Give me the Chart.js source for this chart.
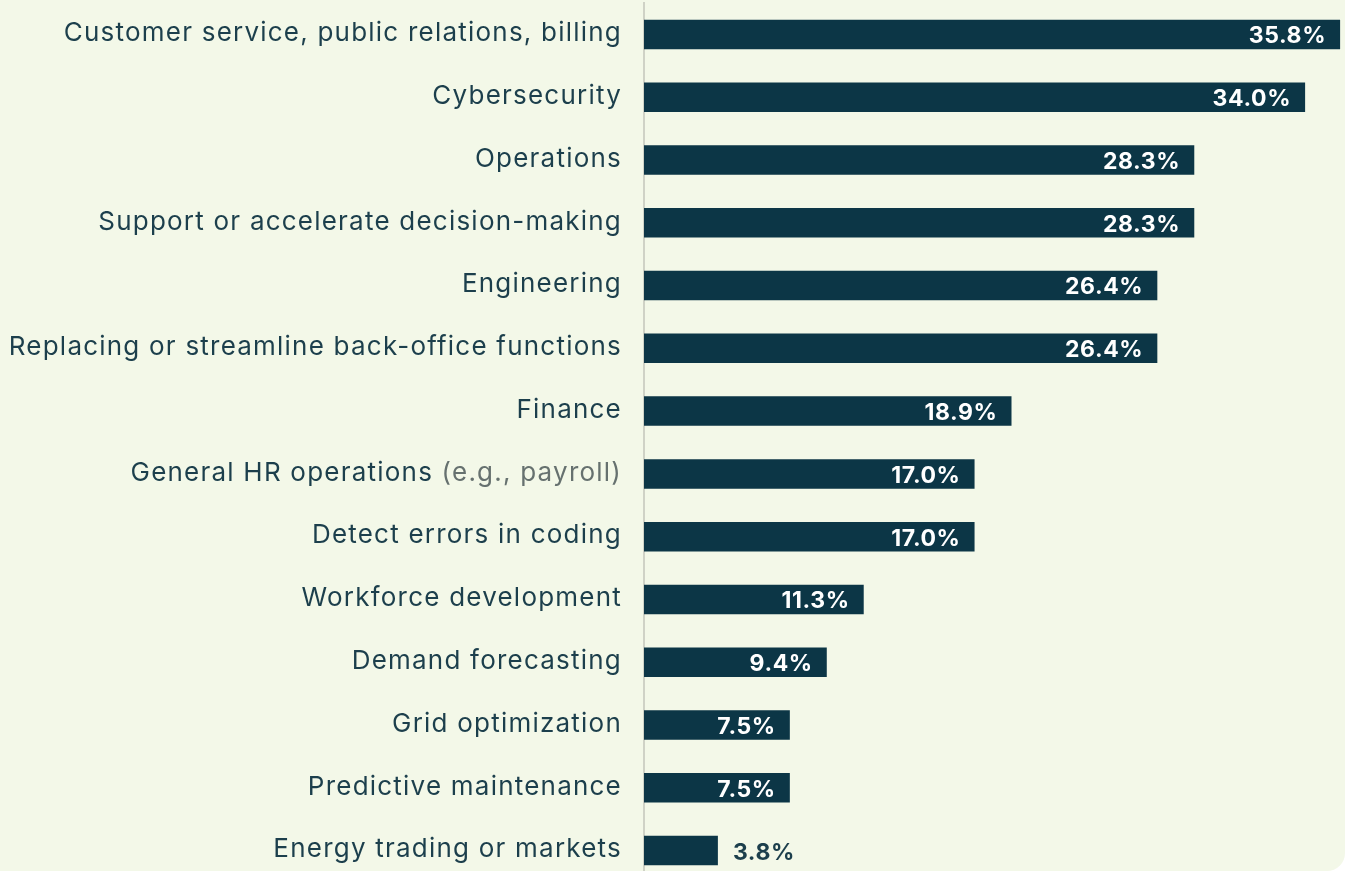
<!DOCTYPE html>
<html>
<head>
<meta charset="utf-8">
<title>AI use cases</title>
<script src="https://cdn.jsdelivr.net/npm/chart.js@4/dist/chart.umd.min.js"></script>
<style>
	html, body { margin: 0; padding: 0; background: #ffffff; overflow: hidden; }
	#card { width: 1345px; height: 871px; background: #f3f8e8; border-radius: 0 0 18px 0; overflow: hidden; }
	canvas { display: block; }
</style>
</head>
<body>
<div id="card"><canvas id="myChart" width="1345" height="882"></canvas></div>
<script>
/*
 * VARIABLES
 */
	var labels = [
		"Customer service, public relations, billing",
		"Cybersecurity",
		"Operations",
		"Support or accelerate decision-making",
		"Engineering",
		"Replacing or streamline back-office functions",
		"Finance",
		"General HR operations",
		"Detect errors in coding",
		"Workforce development",
		"Demand forecasting",
		"Grid optimization",
		"Predictive maintenance",
		"Energy trading or markets"
	];
	// grey trailing notes after some labels
	var labelNotes = ["", "", "", "", "", "", "", " (e.g., payroll)", "", "", "", "", "", ""];
	var values = [35.8, 34.0, 28.3, 28.3, 26.4, 26.4, 18.9, 17.0, 17.0, 11.3, 9.4, 7.5, 7.5, 3.8];

	var barColor = '#0c3646';
	var textColor = '#1c3f4c';
	var noteColor = '#66716f';
	var fontFamily = 'Inter, "Noto Sans", sans-serif';
	var labelSize = 26;

	/* spread letters so the longest label spans about 612px, like the source */
	var measureCtx = document.createElement('canvas').getContext('2d');
	measureCtx.font = labelSize + 'px ' + fontFamily;
	var longest = labels[5];
	var labelSpacing = (612 - measureCtx.measureText(longest).width) / (longest.length - 1);
	labelSpacing = Math.max(0, Math.min(2, labelSpacing));

/*
 * PLUGINS
 */
	/* DRAW - category labels with optional grey note */
	var categoryLabels = {
		id: 'categoryLabels',
		afterDraw: function(chart) {
			var ctx = chart.ctx;
			var yScale = chart.scales.y;
			var right = yScale.right - 22;
			ctx.save();
			ctx.font = labelSize + 'px ' + fontFamily;
			ctx.letterSpacing = labelSpacing + 'px';
			ctx.textBaseline = 'middle';
			ctx.textAlign = 'right';
			labels.forEach(function(label, i) {
				var y = yScale.getPixelForValue(i) - 1;
				var x = right;
				if (labelNotes[i]) {
					ctx.fillStyle = noteColor;
					ctx.fillText(labelNotes[i], x, y);
					x -= ctx.measureText(labelNotes[i]).width;
				}
				ctx.fillStyle = textColor;
				ctx.fillText(label, x, y);
			});
			ctx.restore();
		}
	};

	/* DRAW - value labels at the end of each bar */
	var valueLabels = {
		id: 'valueLabels',
		afterDatasetsDraw: function(chart) {
			var ctx = chart.ctx;
			var meta = chart.getDatasetMeta(0);
			ctx.save();
			ctx.font = 'bold 23px ' + fontFamily;
			ctx.letterSpacing = '0.6px';
			ctx.textBaseline = 'middle';
			meta.data.forEach(function(bar, i) {
				var text = values[i].toFixed(1) + '%';
				var w = ctx.measureText(text).width;
				var barWidth = bar.x - bar.base;
				if (barWidth > w + 24) {
					ctx.textAlign = 'right';
					ctx.fillStyle = '#ffffff';
					ctx.fillText(text, bar.x - 14, bar.y + 2);
				}
				else {
					ctx.textAlign = 'left';
					ctx.fillStyle = textColor;
					ctx.fillText(text, bar.x + 15, bar.y + 2);
				}
			});
			ctx.restore();
		}
	};

/*
 * CHART
 */
	var myChart = new Chart(document.getElementById('myChart'), {
		type: 'bar',
		data: {
			labels: labels,
			datasets: [{
				data: values,
				backgroundColor: barColor,
				borderWidth: 0,
				categoryPercentage: 1,
				barPercentage: 0.47
			}]
		},
		options: {
			indexAxis: 'y',
			responsive: false,
			animation: false,
			layout: {
				padding: { top: 3, right: 1, bottom: 0, left: 0 }
			},
			plugins: {
				legend: { display: false },
				tooltip: { enabled: false }
			},
			scales: {
				x: {
					display: false,
					min: 0,
					max: 36
				},
				y: {
					grid: { display: false, drawTicks: false },
					border: { display: true, color: '#cfd2c6', width: 2 },
					ticks: { display: false },
					afterFit: function(scale) {
						scale.width = 644;
					}
				}
			}
		},
		plugins: [categoryLabels, valueLabels]
	});
</script>
</body>
</html>
